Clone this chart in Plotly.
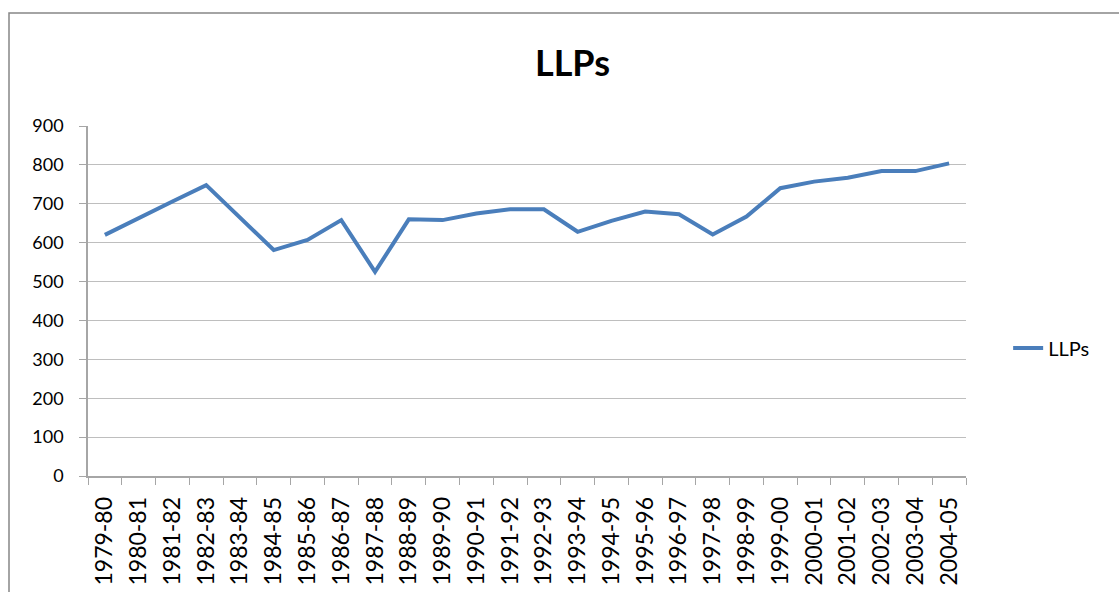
import plotly.graph_objects as go

categories = ["1979-80", "1980-81", "1981-82", "1982-83", "1983-84", "1984-85",
              "1985-86", "1986-87", "1987-88", "1988-89", "1989-90", "1990-91",
              "1991-92", "1992-93", "1993-94", "1994-95", "1995-96", "1996-97",
              "1997-98", "1998-99", "1999-00", "2000-01", "2001-02", "2002-03",
              "2003-04", "2004-05"]
llps = [620, 664, 706, 748, 664, 581, 607, 658, 525, 660, 658, 675,
        686, 686, 628, 656, 680, 673, 621, 667, 740, 757, 767, 784,
        784, 804]
y_ticks = [0, 100, 200, 300, 400, 500, 600, 700, 800, 900]

W, H = 1119, 592
L, R, T, B = 88, 966, 126, 476

fig = go.Figure()
fig.add_trace(go.Scatter(x=categories, y=llps, mode="lines", name="LLPs",
                         line=dict(color="#4A7EBB", width=4)))

fig.update_layout(
    width=W, height=H,
    margin=dict(l=L, r=W - R, t=T, b=H - B, autoexpand=False),
    paper_bgcolor="white", plot_bgcolor="white",
    font=dict(family="Lato, Liberation Sans, sans-serif", color="#000000"),
    title=dict(text="<b>LLPs</b>", x=572.5 / W, xref="container", xanchor="center",
               y=1 - 63 / H, yref="container", yanchor="middle",
               font=dict(size=36, family="Lato, Liberation Sans, sans-serif", color="#000000")),
    showlegend=True,
    legend=dict(x=1.048, y=(B - 348) / (B - T), xanchor="left", yanchor="middle",
                font=dict(size=20), bgcolor="rgba(0,0,0,0)"),
    xaxis=dict(type="category", tickangle=-90, tickson="boundaries",
               ticks="outside", ticklen=7, tickcolor="#A6A6A6",
               showline=True, linecolor="#A6A6A6", linewidth=1.5,
               showgrid=False, tickfont=dict(size=23), ticklabelstandoff=10,
               range=[-0.5, len(categories) - 0.5]),
    yaxis=dict(range=[0, 900], tickvals=y_ticks, ticks="outside", ticklen=7,
               tickcolor="#A6A6A6", showline=True, linecolor="#A6A6A6", linewidth=1.5,
               showgrid=True, gridcolor="#BEBEBE", gridwidth=1.3,
               zeroline=False, tickfont=dict(size=18), ticklabelstandoff=12),
)

fig.add_shape(type="rect", xref="paper", yref="paper",
              x0=(9 - L) / (R - L), x1=(W + 20 - L) / (R - L),
              y0=(B - (H + 20)) / (B - T), y1=(B - 13) / (B - T),
              line=dict(color="#868686", width=1.5), fillcolor="rgba(0,0,0,0)",
              layer="below")

fig.write_html("out.html", config={"displayModeBar": False},
               post_script="document.body.style.margin='0';document.body.style.overflow='hidden';")
